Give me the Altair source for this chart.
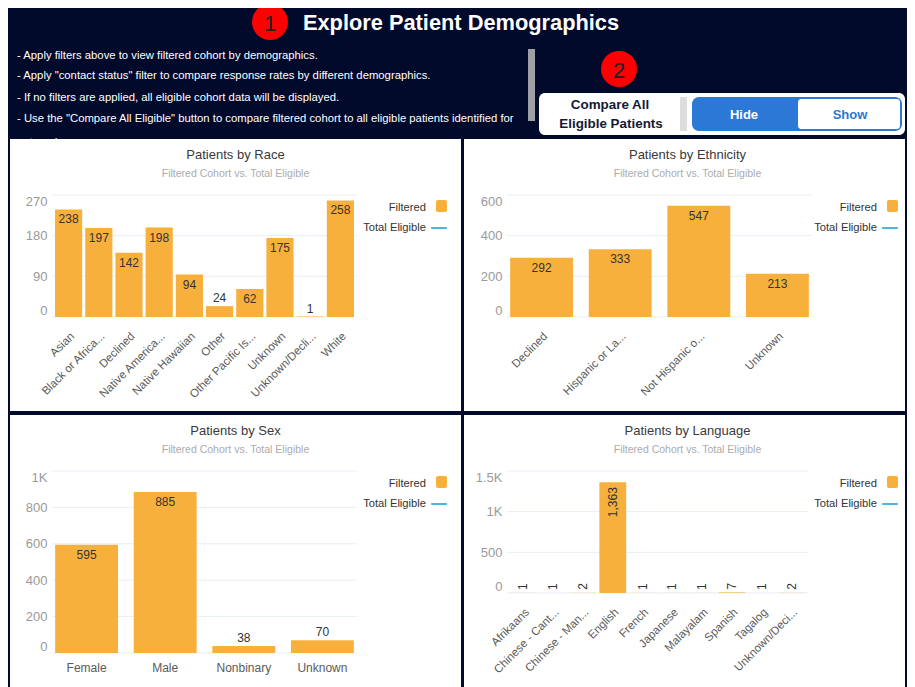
import altair as alt
import pandas as pd

# ---- data ----
race_cats = ["Asian", "Black or Africa...", "Declined", "Native America...", "Native Hawaiian",
             "Other", "Other Pacific Is...", "Unknown", "Unknown/Decli...", "White"]
race_vals = [238, 197, 142, 198, 94, 24, 62, 175, 1, 258]
race_ticks = [0, 90, 180, 270]

eth_cats = ["Declined", "Hispanic or La...", "Not Hispanic o...", "Unknown"]
eth_vals = [292, 333, 547, 213]
eth_ticks = [0, 200, 400, 600]

sex_cats = ["Female", "Male", "Nonbinary", "Unknown"]
sex_vals = [595, 885, 38, 70]
sex_ticks = [0, 200, 400, 600, 800, 1000]

lang_cats = ["Afrikaans", "Chinese - Cant...", "Chinese - Man...", "English", "French",
             "Japanese", "Malayalam", "Spanish", "Tagalog", "Unknown/Deci..."]
lang_vals = [1, 1, 2, 1363, 1, 1, 1, 7, 1, 2]
lang_ticks = [0, 500, 1000, 1500]

header_title = "Explore Patient Demographics"
notes = [
    '- Apply filters above to view filtered cohort by demographics.',
    '- Apply "contact status" filter to compare response rates by different demographics.',
    '- If no filters are applied, all eligible cohort data will be displayed.',
    '- Use the "Compare All Eligible" button to compare filtered cohort to all eligible patients identified for',
    'outreach.',
]
subtitle = "Filtered Cohort vs. Total Eligible"

FONT = "Liberation Sans"
NAVY = "#020A2C"
ORANGE = "#F8B03C"
LINE = "#4DB6DE"
BLUE = "#2B78D6"
GRID = "#E9EEF5"
ORIGIN_X, ORIGIN_Y = 52, 8  # header group's origin, in page pixels

one = alt.Data(values=[{"k": 0}])


def box(x1, y1, x2, y2, color, radius=0, ox=0, oy=0):
    return alt.Chart(one).mark_rect(color=color, cornerRadius=radius).encode(
        x=alt.value(x1 - ox), x2=alt.value(x2 - ox), y=alt.value(y1 - oy), y2=alt.value(y2 - oy))


def label(text, x, y, size=12, color="#333333", align="center", weight="normal", ox=0, oy=0):
    return alt.Chart(one).mark_text(text=text, fontSize=size, color=color, align=align, baseline="middle",
                                    fontWeight=weight, font=FONT).encode(
        x=alt.value(x - ox), y=alt.value(y - oy))


def panel(title, cats, vals, ticks, rect, plot, pad_in, pad_out, angle=-45, rotate=False,
          leg_right=447, center=235.5):
    l, t, r, b = rect
    pl, pt, pr, pb = plot
    w, h = pr - pl, pb - pt
    ymax = ticks[-1]
    thr = ymax * 20 / h
    df = pd.DataFrame({"cat": cats, "value": vals})
    xscale = alt.Scale(domain=cats, paddingInner=pad_in, paddingOuter=pad_out)
    xenc = alt.X("cat:N", sort=None, title=None, scale=xscale,
                 axis=alt.Axis(labelAngle=angle, labelAlign="right" if angle else "center",
                               labelBaseline="top", labelFontSize=11.5 if angle else 12, labelColor="#5A5A5A",
                               labelFont=FONT, ticks=False, domain=False, grid=False,
                               labelPadding=13 if angle else 9,
                               labelLimit=200, labelOverlap=False, zindex=1))
    yscale = alt.Scale(domain=[0, ymax], nice=False)
    yenc = alt.Y("value:Q", title=None, scale=yscale,
                 axis=alt.Axis(values=ticks, ticks=False, domain=False, grid=False, labelFlush=True,
                               labelFontSize=13, labelColor="#9A9A9A", labelFont=FONT, labelPadding=5,
                               labelExpr="datum.value >= 1000 ? (datum.value / 1000) + 'K' : datum.value",
                               zindex=1))
    layers = [
        box(l, t, r, b, "white", ox=pl, oy=pt),
        alt.Chart(pd.DataFrame({"value": ticks})).mark_rule(color=GRID, strokeWidth=1).encode(y=yenc),
        alt.Chart(df).mark_bar(color=ORANGE).encode(x=xenc, y=yenc),
    ]
    tx = dict(fontSize=12, color="#333333", font=FONT)
    val_text = alt.Text("value:Q", format=",")
    if rotate:
        inside = dict(angle=270, align="right", baseline="middle", dx=-5)
        above = dict(angle=270, align="left", baseline="middle", dx=3)
    else:
        inside = dict(align="center", baseline="middle", dy=10)
        above = dict(align="center", baseline="middle", dy=-8)
    layers.append(alt.Chart(df).transform_filter(alt.datum.value >= thr).mark_text(**inside, **tx).encode(
        x=xenc, y=yenc, text=val_text))
    layers.append(alt.Chart(df).transform_filter(alt.datum.value < thr).mark_text(**above, **tx).encode(
        x=xenc, y=yenc, text=val_text))
    layers += [
        label(title, center, t + 16, size=13, color="#3A3A3A", ox=pl, oy=pt),
        label(subtitle, center, t + 35, size=10.5, color="#ABABAB", ox=pl, oy=pt),
        label("Filtered", leg_right - 21, t + 69, size=11.2, align="right", ox=pl, oy=pt),
        box(leg_right - 11, t + 61, leg_right, t + 73, ORANGE, radius=2, ox=pl, oy=pt),
        label("Total Eligible", leg_right - 21, t + 89, size=11.2, align="right", ox=pl, oy=pt),
        box(leg_right - 16, t + 88, leg_right, t + 90, LINE, radius=1, ox=pl, oy=pt),
    ]
    return alt.layer(*layers).properties(width=w, height=h)


o = dict(ox=ORIGIN_X, oy=ORIGIN_Y)


def dot(x, y):
    return alt.Chart(one).mark_circle(color="#FF0000", size=1296, opacity=1, clip=True).encode(
        x=alt.value(x - ORIGIN_X), y=alt.value(y - ORIGIN_Y))


header_layers = [
    box(8, 8, 907, 687, NAVY, **o),
    label(header_title, 461, 23, size=21.8, color="white", weight="bold", **o),
    dot(270, 22),
    label("1", 270, 24, size=22, color="#222222", **o),
    dot(619, 69),
    label("2", 619, 71, size=22, color="#222222", **o),
    box(528, 49, 535, 121, "#9EA0A6", **o),
    box(539, 93, 905, 135, "white", radius=6, **o),
    label("Compare All", 610, 105, size=13.4, color="#141A33", weight="bold", **o),
    label("Eligible Patients", 611, 124, size=13.4, color="#141A33", weight="bold", **o),
    box(680, 97, 687, 131, "#DDDDDD", **o),
    box(692, 97, 902, 131, BLUE, radius=7, **o),
    box(798, 99, 900, 129, "white", radius=3, **o),
    label("Hide", 744, 115, size=13, color="white", weight="bold", **o),
    label("Show", 850, 115, size=13, color=BLUE, weight="bold", **o),
]
for text, y in zip(notes, [56, 76, 98, 119, 143]):
    header_layers.append(label(text, 17, y, size=11.3, color="white", align="left", **o))
header = alt.layer(*header_layers).properties(width=855, height=177)

p1 = panel("Patients by Race", race_cats, race_vals, race_ticks, (10, 139, 461, 411), (52, 195, 357, 317), 0.1, 0.1)
p2 = panel("Patients by Ethnicity", eth_cats, eth_vals, eth_ticks, (464, 139, 905, 411), (507, 195, 812, 317),
           0.2, 0.04, leg_right=898, center=687.5)
p3 = panel("Patients by Sex", sex_cats, sex_vals, sex_ticks, (10, 415, 461, 687), (52, 471, 357, 653),
           0.2, 0.04, angle=0)
p4 = panel("Patients by Language", lang_cats, lang_vals, lang_ticks, (464, 415, 905, 687), (507, 471, 808, 593),
           0.1, 0.1, rotate=True, leg_right=898, center=687.5)

grid = alt.concat(p1, p2, p3, p4, columns=2, bounds="flush", spacing={"row": 154, "column": 150})
chart = alt.vconcat(header, grid, spacing=10, bounds="flush").properties(
    padding=0, background=NAVY
).configure_view(stroke=None)

chart.save("out.html", embed_options={"renderer": "svg", "actions": False})
